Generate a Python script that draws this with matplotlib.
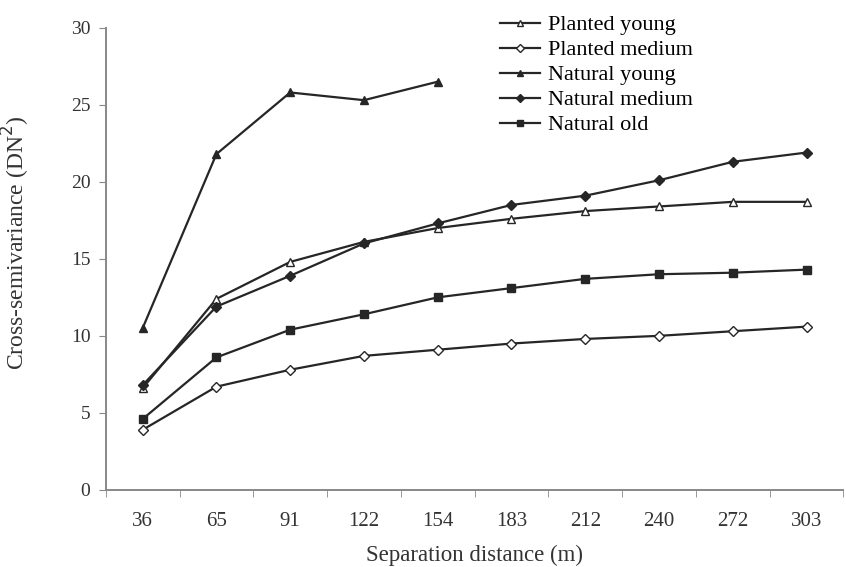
import numpy as np
import matplotlib.pyplot as plt

plt.rcParams['font.family'] = ['Liberation Serif', 'DejaVu Serif']

distances = ['36', '65', '91', '122', '154', '183', '212', '240', '272', '303']

planted_young = [6.6, 12.4, 14.8, 16.1, 17.0, 17.6, 18.1, 18.4, 18.7, 18.7]
planted_medium = [3.9, 6.7, 7.8, 8.7, 9.1, 9.5, 9.8, 10.0, 10.3, 10.6]
natural_young = [10.5, 21.8, 25.8, 25.3, 26.5]
natural_medium = [6.8, 11.9, 13.9, 16.0, 17.3, 18.5, 19.1, 20.1, 21.3, 21.9]
natural_old = [4.6, 8.6, 10.4, 11.4, 12.5, 13.1, 13.7, 14.0, 14.1, 14.3]

fig = plt.figure(figsize=(8.46, 5.67), dpi=100)
ax = fig.add_axes([0.125, 0.136, 0.872, 0.815])

x = np.arange(len(distances))
lc = '#262626'
ax.plot(x, planted_young, '-^', color=lc, lw=1.6, ms=6, mfc='white', mec=lc, label='Planted young')
ax.plot(x, planted_medium, '-D', color=lc, lw=1.6, ms=5, mfc='white', mec=lc, label='Planted medium')
ax.plot(x[:len(natural_young)], natural_young, '-^', color=lc, lw=1.6, ms=6, mfc=lc, label='Natural young')
ax.plot(x, natural_medium, '-D', color=lc, lw=1.6, ms=5, mfc=lc, label='Natural medium')
ax.plot(x, natural_old, '-s', color=lc, lw=1.6, ms=6, mfc=lc, label='Natural old')

ax.set_xlim(-0.5, len(distances) - 0.5)
ax.set_ylim(0, 30)
ax.set_yticks(range(0, 31, 5))
ax.set_xticks(x)
ax.set_xticklabels(distances)
ax.set_xticks(np.arange(-0.5, len(distances)), minor=True)
ax.tick_params(axis='x', which='major', length=0, pad=16, labelsize=15, labelcolor='#333333')
ax.tick_params(axis='x', which='minor', length=5, color='#888888')
ax.tick_params(axis='y', length=5, pad=6, color='#888888', labelsize=14, labelcolor='#333333')

for s in ['top', 'right']:
    ax.spines[s].set_visible(False)
for s in ['left', 'bottom']:
    ax.spines[s].set_color('#888888')
    ax.spines[s].set_linewidth(1.4)

ax.set_xlabel('Separation distance (m)', fontsize=16.5, labelpad=10, color='#333333')
ax.set_ylabel('Cross-semivariance (DN$^2$)', fontsize=17, color='#333333')
ax.yaxis.set_label_coords(-0.10, 0.535)

ax.legend(loc='upper left', bbox_to_anchor=(0.591, 0.974), bbox_transform=fig.transFigure,
          frameon=False, fontsize=16, borderpad=0, borderaxespad=0,
          handlelength=1.8, labelspacing=0.2, handletextpad=0.36, markerscale=0.8)

fig.savefig('out.png', dpi=100)
